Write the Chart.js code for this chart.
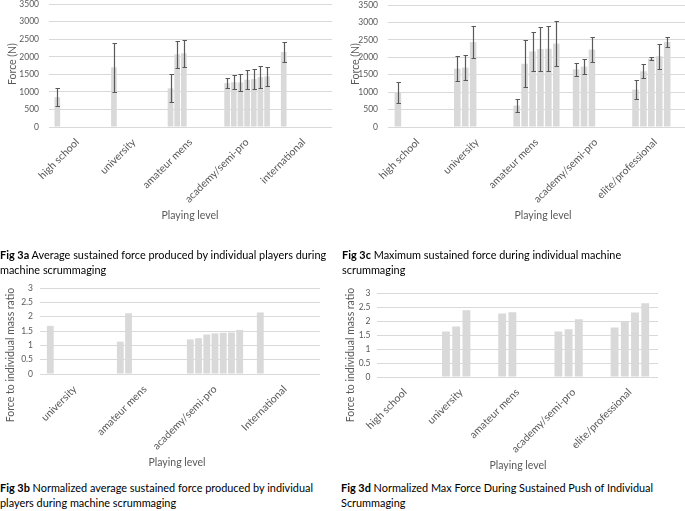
<!DOCTYPE html>
<html>
<head>
<meta charset="utf-8">
<script src="https://cdn.jsdelivr.net/npm/chart.js@4"></script>
<style>
  html, body { margin: 0; padding: 0; background: #fff; overflow: hidden; }
  body { width: 685px; height: 511px; position: relative; font-family: Lato, "Open Sans", sans-serif; }
  canvas { position: absolute; }
  .cap { position: absolute; font-size: 10.9px; line-height: 14.5px; color: #000; white-space: nowrap; }
  .xt { position: absolute; font-size: 10.5px; color: #595959; transform: translate(-50%, -50%); white-space: nowrap; }
  .yt { position: absolute; font-size: 10.5px; color: #595959; transform: translate(-50%, -50%) rotate(-90deg); white-space: nowrap; }
</style>
</head>
<body>
<canvas id="figA" width="340" height="215" style="left:0;top:0"></canvas>
<canvas id="figC" width="355" height="215" style="left:340px;top:0"></canvas>
<canvas id="figB" width="330" height="180" style="left:0;top:280px"></canvas>
<canvas id="figD" width="330" height="180" style="left:340px;top:285px"></canvas>

<div class="yt" style="left:12px;top:64px">Force (N)</div>
<div class="yt" style="left:355px;top:64px">Force (N)</div>
<div class="yt" style="left:10px;top:355px">Force to individual mass ratio</div>
<div class="yt" style="left:350px;top:355px">Force to individual mass ratio</div>

<div class="xt" style="left:190px;top:215px">Playing level</div>
<div class="xt" style="left:543px;top:215px">Playing level</div>
<div class="xt" style="left:177px;top:462px">Playing level</div>
<div class="xt" style="left:518px;top:465px">Playing level</div>

<div class="cap" style="left:0;top:248px"><b>Fig 3a</b> Average sustained force produced by individual players during<br>machine scrummaging</div>
<div class="cap" style="left:342px;top:248px"><b>Fig 3c</b> Maximum sustained force during individual machine<br>scrummaging</div>
<div class="cap" style="left:0;top:481px"><b>Fig 3b</b> Normalized average sustained force produced by individual<br>players during machine scrummaging</div>
<div class="cap" style="left:341px;top:481px"><b>Fig 3d</b> Normalized Max Force During Sustained Push of Individual<br>Scrummaging</div>

<script>
// values per playing level, one entry per study bar
const levelsA = ['high school', 'university', 'amateur mens', 'academy/semi-pro', 'international']
const forceA = [[850], [1700], [1100, 2070, 2100], [1250, 1275, 1270, 1345, 1365, 1420, 1440], [2135]]
const forceErrA = [[250], [700], [400, 380, 390], [140, 200, 250, 270, 285, 320, 265], [295]]

const levelsC = ['high school', 'university', 'amateur mens', 'academy/semi-pro', 'elite/professional']
const forceC = [[990], [1676, 1705, 2438], [615, 1816, 2170, 2240, 2247, 2395], [1657, 1734, 2222], [1073, 1600, 1964, 2031, 2443]]
const forceErrC = [[300], [355, 360, 450], [188, 670, 565, 640, 640, 640], [185, 210, 355], [283, 200, 48, 364, 143]]

const levelsB = ['university', 'amateur mens', 'academy/semi-pro', 'International']
const ratioB = [[1.68], [1.13, 2.12], [1.21, 1.25, 1.38, 1.42, 1.44, 1.45, 1.54], [2.15]]

const levelsD = ['high school', 'university', 'amateur mens', 'academy/semi-pro', 'elite/professional']
const ratioD = [[], [1.64, 1.82, 2.4], [2.28, 2.33], [1.64, 1.72, 2.08], [1.78, 2.0, 2.32, 2.65]]

const forceTicks = [0, 500, 1000, 1500, 2000, 2500, 3000, 3500]
const ratioTicks = [0, 0.5, 1, 1.5, 2, 2.5, 3]

const GREY_TEXT = '#595959'
const BAR = '#d9d9d9'
const FONT = 'Lato, "Open Sans", sans-serif'

const errorBars = {
    id: 'errorBars',
    afterDatasetsDraw(chart) {
        const ctx = chart.ctx
        const y = chart.scales.y
        ctx.save()
        ctx.strokeStyle = '#595959'
        ctx.lineWidth = 1.2
        chart.data.datasets.forEach((ds, i) => {
            if (!ds.errors) return
            chart.getDatasetMeta(i).data.forEach((bar, j) => {
                const v = ds.data[j]
                const e = ds.errors[j]
                if (v == null || e == null) return
                const x = Math.round(bar.x) + 0.5
                const top = Math.round(y.getPixelForValue(v + e)) + 0.5
                const bot = Math.round(y.getPixelForValue(v - e)) + 0.5
                ctx.beginPath()
                ctx.moveTo(x, top); ctx.lineTo(x, bot)
                ctx.moveTo(x - 2, top); ctx.lineTo(x + 2.5, top)
                ctx.moveTo(x - 2, bot); ctx.lineTo(x + 2.5, bot)
                ctx.stroke()
            })
        })
        ctx.restore()
    }
}

function buildConfig(labels, groups, errs, ticks, cfg) {
    const n = Math.max(...groups.map(g => g.length))
    const datasets = []
    for (let i = 0; i < n; i++) {
        datasets.push({
            data: groups.map(g => g[i] ?? null),
            errors: errs ? errs.map(g => g[i] ?? null) : null,
            backgroundColor: BAR,
            barPercentage: cfg.barPct,
            categoryPercentage: n / (n + 1.5)
        })
    }
    return {
        type: 'bar',
        data: { labels, datasets },
        options: {
            responsive: false,
            animation: false,
            layout: { padding: { top: 0, right: cfg.right, left: 0, bottom: 0 } },
            plugins: { legend: { display: false }, tooltip: { enabled: false } },
            scales: {
                x: {
                    grid: { display: false },
                    border: { display: false },
                    ticks: { color: GREY_TEXT, font: { family: FONT, size: 10.5 }, minRotation: 45, maxRotation: 45, autoSkip: false, padding: 1 },
                    afterFit: s => { s.height = cfg.xh }
                },
                y: {
                    min: ticks[0],
                    max: ticks[ticks.length - 1],
                    grid: { color: '#d9d9d9', drawTicks: false },
                    border: { display: false },
                    ticks: { color: GREY_TEXT, font: { family: FONT, size: 8.5 }, padding: cfg.ypad, autoSkip: false, callback: v => String(v) },
                    afterBuildTicks: s => { s.ticks = ticks.map(v => ({ value: v })) },
                    afterFit: s => { s.width = cfg.yw }
                }
            }
        },
        plugins: [errorBars]
    }
}

// draw once, then resize the canvas so the plot area lands on cfg.top..cfg.bottom
function makeChart(id, labels, groups, errs, ticks, cfg) {
    const canvas = document.getElementById(id)
    let ch = new Chart(canvas, buildConfig(labels, groups, errs, ticks, cfg))
    const a = ch.chartArea
    const newH = Math.round(ch.height + (cfg.bottom - cfg.top) - (a.bottom - a.top))
    ch.destroy()
    canvas.width = canvas.width
    canvas.height = newH
    ch = new Chart(canvas, buildConfig(labels, groups, errs, ticks, cfg))
    canvas.style.top = (cfg.top - ch.chartArea.top) + 'px'
}

makeChart('figA', levelsA, forceA, forceErrA, forceTicks, { yw: 49, right: 8, xh: 84, ypad: 10, barPct: 0.85, top: 4, bottom: 127 })
makeChart('figC', levelsC, forceC, forceErrC, forceTicks, { yw: 48, right: 10, xh: 85, ypad: 10, barPct: 0.83, top: 4.7, bottom: 126.7 })
makeChart('figB', levelsB, ratioB, null, ratioTicks, { yw: 40, right: 10, xh: 86, ypad: 7, barPct: 0.83, top: 288.3, bottom: 374 })
makeChart('figD', levelsD, ratioD, null, ratioTicks, { yw: 37, right: 12, xh: 88, ypad: 6.5, barPct: 0.77, top: 293.3, bottom: 376.7 })
</script>
</body>
</html>
